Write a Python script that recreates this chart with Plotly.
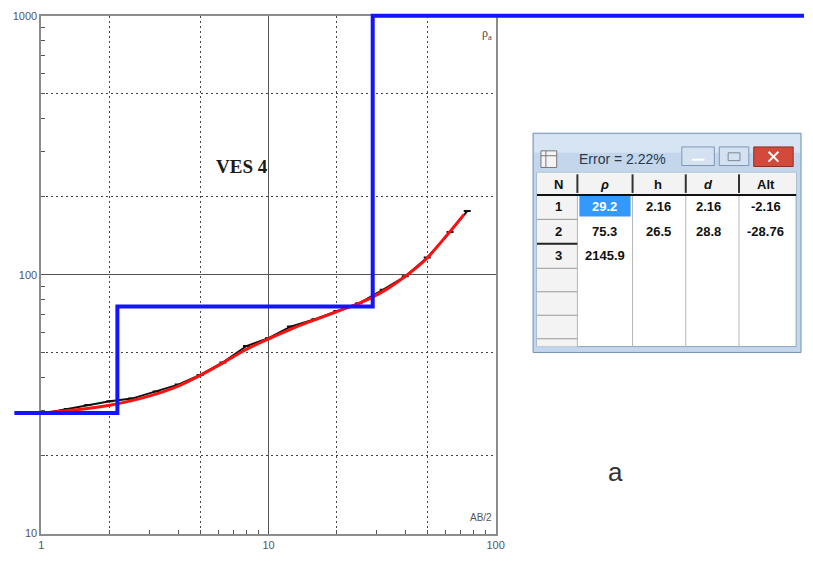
import plotly.graph_objects as go

W, H = 813, 563

# ---------------- data ----------------
ab2_fit = [1.0, 1.5, 2.0, 2.5, 3.0, 3.5, 4.0, 5.0, 6.3, 8.0, 10, 12.5, 15, 20, 25, 28,
           33.6, 41, 50, 61, 72.6]
rho_fit = [29.2, 30.2, 31.3, 32.6, 34.0, 35.5, 37.1, 40.8, 45.6, 51.5, 56.5, 61.5, 65.5,
           72.0, 77.5, 81.0, 88.5, 100, 116, 142, 171]

ab2_meas = [1.0, 1.3, 1.6, 2.0, 2.5, 3.2, 4.0, 5.0, 6.3, 8.0, 10, 12.5, 16, 20, 25, 32,
            40, 50, 63, 75]
rho_meas = [29.0, 30.3, 31.4, 32.4, 33.2, 35.4, 37.6, 41.0, 45.8, 53.0, 56.8, 63.0, 67.3,
            72.3, 77.5, 87.5, 98.5, 116.5, 146, 176]

layer_rho = [29.2, 75.3, 2145.9]
layer_depth = [2.16, 28.76]
model_x_start = 0.76

x_tick_vals = [1, 10, 100]
x_tick_text = ["1", "10", "100"]
y_tick_vals = [10, 100, 1000]
y_tick_text = ["10", "100", "1000"]
x_minor = [2, 3, 4, 5, 6, 7, 8, 9, 20, 30, 40, 50, 60, 70, 80, 90]
y_minor = [20, 30, 40, 50, 60, 70, 80, 90, 200, 300, 400, 500, 600, 700, 800, 900]
x_dotted = [2, 5, 20, 50]
y_dotted = [20, 50, 200, 500]

tbl_header = ["N", "ρ", "h", "d", "Alt"]
tbl_N = ["1", "2", "3"]
tbl_rho = ["29.2", "75.3", "2145.9"]
tbl_h = ["2.16", "26.5", ""]
tbl_d = ["2.16", "28.8", ""]
tbl_alt = ["-2.16", "-28.76", ""]
error_text = "Error = 2.22%"

# ---------------- geometry ----------------
PL, PR, PT, PB = 39, 500, 10, 539
X_LOG = (0, 2)
Y_LOG = (1, 3)
dec_x = (PR - PL) / (X_LOG[1] - X_LOG[0])
dec_y = (PB - PT) / (Y_LOG[1] - Y_LOG[0])
x2_range = [X_LOG[0] - PL / dec_x, X_LOG[0] + (W - PL) / dec_x]
y2_range = [Y_LOG[0] - (H - PB) / dec_y, Y_LOG[1] + PT / dec_y]


def fx(px):
    return px / W


def fy(py):
    return 1 - py / H


fig = go.Figure()

# invisible trace on the dotted-grid overlay axes
fig.add_trace(go.Scatter(x=[1], y=[10], xaxis="x3", yaxis="y3", mode="markers",
                         marker=dict(opacity=0), showlegend=False, hoverinfo="skip"))

# measured data
fig.add_trace(go.Scatter(x=ab2_meas, y=rho_meas, mode="lines+markers",
                         line=dict(color="#111111", width=2),
                         marker=dict(symbol="line-ew", size=5, line=dict(color="#111111", width=2)),
                         showlegend=False))
# fitted curve
fig.add_trace(go.Scatter(x=ab2_fit, y=rho_fit, mode="lines",
                         line=dict(color="#ff1010", width=3, shape="spline", smoothing=0.8),
                         showlegend=False))

# layered model (blue step)
xs = [model_x_start]
ys = [layer_rho[0]]
for i, d in enumerate(layer_depth):
    xs += [d, d]
    ys += [layer_rho[i], layer_rho[i + 1]]
xs.append(10 ** x2_range[1] * 1.2)
ys.append(layer_rho[-1])
ys_disp = [min(v, 10 ** Y_LOG[1]) for v in ys]
fig.add_trace(go.Scatter(x=xs, y=ys_disp, xaxis="x2", yaxis="y2", mode="lines",
                         line=dict(color="#1414ff", width=4), showlegend=False))

GRID = "#555555"
FRAME = "#8c8c8c"
TICKFONT = dict(family="Liberation Sans, Arial, sans-serif", size=11, color="#555555")

fig.update_layout(
    width=W, height=H,
    margin=dict(l=0, r=0, t=0, b=0),
    paper_bgcolor="white", plot_bgcolor="rgba(0,0,0,0)",
    showlegend=False,
    xaxis=dict(type="log", range=list(X_LOG), domain=[fx(PL), fx(PR)],
               tickvals=x_tick_vals, ticktext=x_tick_text, ticks="",
               showgrid=True, gridcolor=GRID, gridwidth=1,
               showline=True, linecolor=FRAME, linewidth=2, mirror=True,
               zeroline=False, tickfont=TICKFONT,
               minor=dict(tickvals=x_minor, ticks="inside", ticklen=4,
                          tickcolor="#555555", tickwidth=1, showgrid=False),
               anchor="y"),
    yaxis=dict(type="log", range=list(Y_LOG), domain=[fy(PB), fy(PT)],
               tickvals=y_tick_vals, ticktext=y_tick_text, ticks="",
               showgrid=True, gridcolor=GRID, gridwidth=1,
               showline=True, linecolor=FRAME, linewidth=2, mirror=True,
               zeroline=False, tickfont=TICKFONT,
               minor=dict(tickvals=y_minor, ticks="inside", ticklen=4,
                          tickcolor="#555555", tickwidth=1, showgrid=False),
               anchor="x"),
    xaxis3=dict(type="log", range=list(X_LOG), overlaying="x", anchor="y3",
                tickvals=x_dotted, showticklabels=False, ticks="",
                showgrid=True, gridcolor="#444444", gridwidth=1, griddash="2px,3px",
                showline=False, zeroline=False),
    yaxis3=dict(type="log", range=list(Y_LOG), overlaying="y", anchor="x3",
                tickvals=y_dotted, showticklabels=False, ticks="",
                showgrid=True, gridcolor="#444444", gridwidth=1, griddash="2px,3px",
                showline=False, zeroline=False),
    xaxis2=dict(type="log", range=x2_range, domain=[0, 1], anchor="y2", visible=False),
    yaxis2=dict(type="log", range=y2_range, domain=[0, 1], anchor="x2", visible=False),
)

ann = []
# in-plot texts
ann.append(dict(text="ρ<sub>a</sub>", x=fx(498), y=fy(29), xref="paper", yref="paper",
                xanchor="right", yanchor="middle", showarrow=False,
                font=dict(family="Liberation Serif, serif", size=12, color="#444")))
ann.append(dict(text="AB/2", x=fx(498), y=fy(523), xref="paper", yref="paper",
                xanchor="right", yanchor="middle", showarrow=False,
                font=dict(family="Liberation Sans, Arial", size=10, color="#555")))
ann.append(dict(text="<b>VES 4</b>", x=fx(243), y=fy(164), xref="paper", yref="paper",
                xanchor="center", yanchor="middle", showarrow=False,
                font=dict(family="Liberation Serif, Times New Roman, serif", size=19, color="#1a1a1a")))
ann.append(dict(text="a", x=fx(622), y=fy(476), xref="paper", yref="paper",
                xanchor="center", yanchor="middle", showarrow=False,
                font=dict(family="Liberation Sans, Arial", size=26, color="#333")))

# ---------------- table window ----------------
shapes = []


def rect(x0, y0, x1, y1, fill, line="rgba(0,0,0,0)", lw=1):
    shapes.append(dict(type="rect", xref="paper", yref="paper",
                       x0=fx(x0), x1=fx(x1), y0=fy(y1), y1=fy(y0),
                       fillcolor=fill, line=dict(color=line, width=lw), layer="above"))


def hline(x0, x1, y, color, lw=1):
    shapes.append(dict(type="line", xref="paper", yref="paper",
                       x0=fx(x0), x1=fx(x1), y0=fy(y), y1=fy(y),
                       line=dict(color=color, width=lw), layer="above"))


def vline(x, y0, y1, color, lw=1):
    shapes.append(dict(type="line", xref="paper", yref="paper",
                       x0=fx(x), x1=fx(x), y0=fy(y0), y1=fy(y1),
                       line=dict(color=color, width=lw), layer="above"))


# frame
rect(538, 130, 810, 354, "#c3d6ec", "#7290b4", 1)
rect(539, 131, 809, 150, "#d6e4f3")
# title icon
rect(546, 148, 562, 165, "#f4f4f4", "#777", 1)
vline(551, 148, 165, "#777")
hline(546, 562, 153, "#777")
# buttons
rect(689, 144, 722, 163, "#d3e1f0", "#7f97b5", 1)
hline(699, 712, 157, "#ffffff", 2)
rect(727, 144, 757, 163, "#d3e1f0", "#7f97b5", 1)
rect(736, 150, 748, 158, "rgba(0,0,0,0)", "#7a8aa0", 1)
rect(762, 144, 802, 164, "#d34a3a", "#8c2f25", 1)
shapes.append(dict(type="line", xref="paper", yref="paper", x0=fx(777), x1=fx(787),
                   y0=fy(149), y1=fy(159), line=dict(color="white", width=2), layer="above"))
shapes.append(dict(type="line", xref="paper", yref="paper", x0=fx(777), x1=fx(787),
                   y0=fy(159), y1=fy(149), line=dict(color="white", width=2), layer="above"))
# client area
rect(542, 170, 805, 348, "#ffffff", "#8fa5be", 1)
rect(542, 170, 805, 192, "#f3f3f3")
rect(542, 192, 583, 348, "#f3f3f3")
# highlighted cell
rect(585, 194, 637, 215, "#3399ff")

col_edges = [542, 583, 639, 693, 747, 805]
for cx in col_edges[1:-1]:
    vline(cx, 192, 348, "#b4b4b4", 1)
    vline(cx, 172, 191, "#333333", 2)
hline(542, 805, 193, "#111111", 2)
row_lines = [218, 243, 268, 292, 316, 340]
for i, ry in enumerate(row_lines):
    hline(542, 583, ry, "#222222" if i == 1 else "#999999", 2 if i == 1 else 1)

TF = dict(family="Liberation Sans, Arial, sans-serif", size=13, color="#111")
ann.append(dict(text=error_text, x=fx(583), y=fy(156), xref="paper", yref="paper",
                xanchor="left", yanchor="middle", showarrow=False,
                font=dict(family="Liberation Sans, Arial, sans-serif", size=14, color="#2b3a4a")))
col_centers = [564, 611, 665, 716, 774]
for c, t in zip(col_centers, tbl_header):
    txt = "<i><b>%s</b></i>" % t if t in ("ρ", "d") else "<b>%s</b>" % t
    ann.append(dict(text=txt, x=fx(c), y=fy(182), xref="paper", yref="paper",
                    xanchor="center", yanchor="middle", showarrow=False, font=TF))
row_y = [205, 230, 255]
columns = [tbl_N, tbl_rho, tbl_h, tbl_d, tbl_alt]
for ci, col in enumerate(columns):
    for ri, val in enumerate(col):
        if not val:
            continue
        color = "#ffffff" if (ci == 1 and ri == 0) else "#111111"
        ann.append(dict(text="<b>%s</b>" % val, x=fx(col_centers[ci]), y=fy(row_y[ri]),
                        xref="paper", yref="paper", xanchor="center", yanchor="middle",
                        showarrow=False, font=dict(TF, color=color)))

fig.update_layout(shapes=shapes, annotations=ann)
fig.write_html("out.html", config={"displayModeBar": False},
               post_script="document.body.style.margin='0';document.body.style.overflow='hidden';")
